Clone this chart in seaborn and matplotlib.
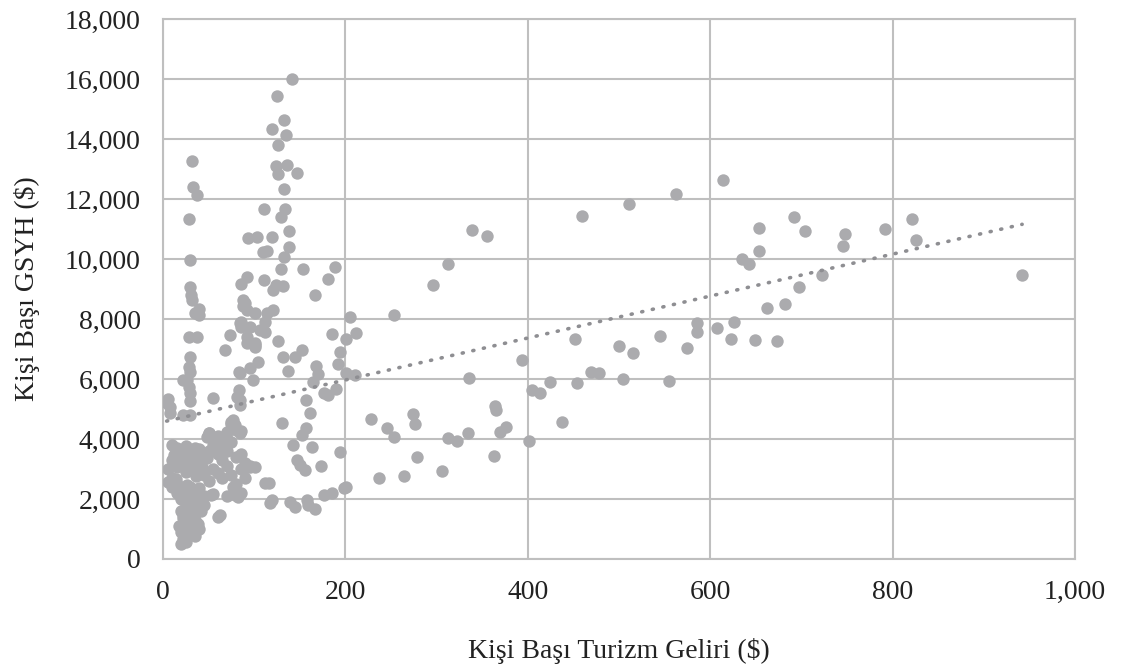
import numpy as np
import pandas as pd
import seaborn as sns
import matplotlib
matplotlib.use('Agg')
import matplotlib.pyplot as plt
from matplotlib.ticker import FuncFormatter

# per capita tourism income ($) and per capita GDP ($)
tourism = [
    # upper cluster around 100-150
    141, 125, 133, 119, 135, 126, 124, 136, 147, 126, 133, 111, 134, 129, 138,
    93, 103, 120, 138, 110, 114, 133, 129, 154, 189, 181, 92, 86, 111, 124,
    132, 121, 167, 88, 88, 92, 90, 101, 114, 121, 112, 205,
    # left column around 30
    32, 33, 37, 28, 30, 30, 31, 32, 39, 35, 39, 28, 37, 30, 28, 30, 26, 22,
    28, 30, 30, 6, 8, 4, 22, 30, 8,
    # middle band
    74, 68, 84, 86, 95, 86, 106, 112, 92, 101, 92, 101, 101, 126, 132, 145,
    152, 185, 212, 201, 194, 192, 168, 170, 201, 210, 84, 95, 104, 83, 99, 83,
    84, 81, 84, 55, 157, 161, 165, 176, 190, 181, 137, 130, 157, 152, 143, 163,
    194, 147, 150, 156, 173, 116, 201, 119, 117, 139, 145, 158, 159, 167, 176,
    185, 75, 77, 84, 79, 70, 50, 48, 95, 101, 112, 79, 53, 63, 60, 92, 82, 77,
    # dense lower-left cluster
    10, 15, 20, 25, 30, 35, 40, 45, 50, 55, 60, 65, 70, 75, 80, 85, 90, 70, 60,
    50, 80, 75, 85, 65, 40, 30, 20, 10, 5, 15, 35, 55, 70, 85, 95, 90, 75, 60,
    45, 25, 10, 5, 15, 20, 30, 40, 50, 65, 80, 85, 70, 55, 45, 35, 25, 15, 10,
    20, 30, 25, 35, 20, 30, 22, 35, 25, 18, 30, 40, 20, 28, 35, 22, 25, 20, 38,
    42, 45, 40,
    12, 18, 24, 28, 33, 38, 43, 48, 14, 26, 22, 36,
    # right part
    198, 228, 237, 246, 253, 253, 264, 274, 276, 279, 296, 306, 312, 312, 322,
    334, 336, 339, 355, 363, 364, 365, 370, 376, 394, 401, 405, 413, 424, 437,
    452, 454, 459, 469, 478, 500, 504, 511, 515, 545, 555, 563, 575, 586, 585,
    607, 614, 623, 626, 635, 643, 649, 654, 654, 662, 673, 682, 692, 697, 704,
    723, 746, 748, 792, 821, 826, 942,
]
gdp = [
    16000, 15430, 14630, 14340, 14120, 13800, 13110, 13130, 12870, 12820, 12340,
    11670, 11660, 11400, 10950, 10710, 10730, 10730, 10400, 10240, 10280, 10060,
    9680, 9660, 9720, 9330, 9390, 9170, 9310, 9130, 9090, 8970, 8800, 8630, 8420,
    8300, 8520, 8190, 8190, 8300, 7910, 8060,
    13260, 12390, 12130, 11320, 9960, 9060, 8800, 8630, 8350, 8190, 8130, 7410,
    7390, 6740, 6410, 6240, 5970, 5970, 5740, 5520, 5250, 5330, 5080, 5200, 4800,
    4800, 4860,
    7470, 6970, 7860, 7910, 7740, 7740, 7630, 7580, 7410, 7190, 7190, 7130, 7080,
    7280, 6740, 6720, 6970, 7500, 7530, 7330, 6900, 6500, 6430, 6170, 6190, 6120,
    6190, 6350, 6580, 6240, 5970, 5630, 5300, 5410, 5130, 5350, 5300, 4860, 5900,
    5520, 5650, 5450, 6280, 4520, 4360, 4130, 3800, 3740, 3560, 3300, 3130, 2950,
    3100, 2520, 2390, 1970, 1860, 1910, 1740, 1970, 1800, 1650, 2130, 2190, 4580,
    4630, 4200, 4470, 4240, 4190, 4080, 3080, 3080, 2530, 2130, 2130, 1470, 1400,
    3080, 2070, 2400,
    3800, 3700, 3600, 3750, 3500, 3700, 3650, 3400, 3600, 3800, 3500, 3300, 3600,
    3900, 3400, 3500, 3200, 4000, 4100, 4200, 4300, 4500, 4250, 3750, 3200, 3100,
    3200, 3300, 3000, 3050, 3000, 3000, 3100, 3000, 3100, 2700, 2800, 2850, 2800,
    2900, 2700, 2550, 2500, 2300, 2400, 2350, 2600, 2700, 2500, 2200, 2100, 2150,
    2100, 2150, 2200, 2200, 2400, 2000, 1900, 1750, 1700, 1600, 1500, 1350, 1300,
    1200, 1100, 1050, 1000, 900, 800, 750, 650, 550, 500, 1150, 1600, 1800, 2000,
    3450, 3350, 3250, 3550, 3150, 3450, 3050, 3350, 2650, 2450, 1450, 2750,
    2350, 4680, 2700, 4370, 4080, 8130, 2760, 4830, 4490, 3410, 9120, 2930, 4020,
    9820, 3930, 4200, 6020, 10970, 10770, 3430, 5100, 4970, 4240, 4410, 6620,
    3930, 5630, 5520, 5890, 4560, 7330, 5880, 11440, 6240, 6190, 7090, 5990,
    11820, 6860, 7420, 5920, 12180, 7020, 7860, 7580, 7700, 12630, 7320, 7900,
    9990, 9840, 7290, 11030, 10280, 8360, 7280, 8500, 11400, 9070, 10920, 9460,
    10430, 10830, 10990, 11340, 10620, 9480,
]

df = pd.DataFrame({'tourism': tourism, 'gdp': gdp})

sns.set_style('white')
plt.rcParams['font.family'] = ['Liberation Serif', 'DejaVu Serif']

fig = plt.figure(figsize=(11.21, 6.70), dpi=100)
ax = fig.add_axes([0.1454, 0.1657, 0.8136, 0.8059])

sns.scatterplot(data=df, x='tourism', y='gdp', ax=ax, color='#ABABAE',
                s=80, linewidth=0, alpha=1, zorder=3)
# linear trendline (dotted), like the Excel one
sns.regplot(data=df, x='tourism', y='gdp', ax=ax, scatter=False, ci=None,
            line_kws={'color': '#8E8E92', 'lw': 2.6, 'linestyle': (0, (0.3, 2.7)),
                      'dash_capstyle': 'round', 'zorder': 4})

ax.set_xlim(0, 1000)
ax.set_ylim(0, 18000)
ax.set_xticks(np.arange(0, 1001, 200))
ax.set_yticks(np.arange(0, 18001, 2000))
fmt = FuncFormatter(lambda v, p: f'{v:,.0f}')
ax.xaxis.set_major_formatter(fmt)
ax.yaxis.set_major_formatter(fmt)
ax.grid(True, color='#BFBFBF', lw=1.5)
ax.set_axisbelow(True)
for sp in ax.spines.values():
    sp.set_color('#BFBFBF')
    sp.set_linewidth(1.5)
ax.tick_params(axis='x', length=0, pad=15, labelsize=20, colors='#222222')
ax.tick_params(axis='y', length=0, pad=16, labelsize=20, colors='#222222')

ax.set_xlabel('Kişi Başı Turizm Geliri ($)', fontsize=20, labelpad=24, color='#222222')
ax.set_ylabel('Kişi Başı GSYH ($)', fontsize=20, labelpad=18, color='#222222')

plt.savefig('out.png', dpi=100)
plt.close()
